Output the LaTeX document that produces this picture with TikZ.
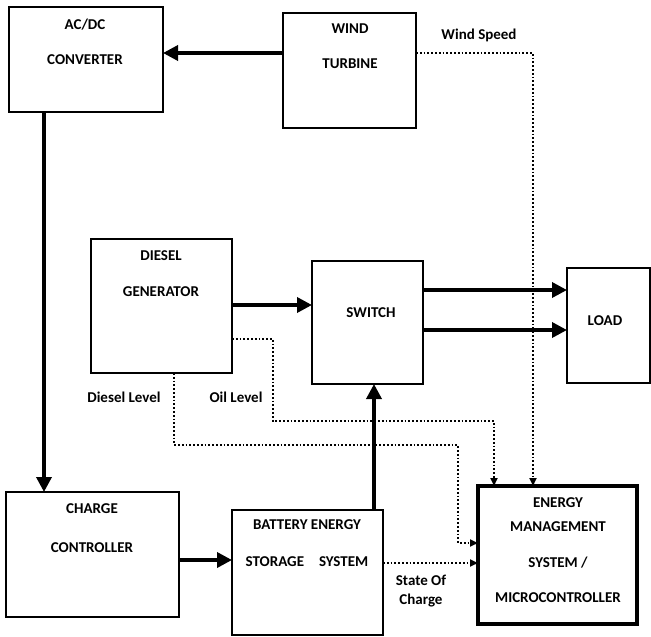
\documentclass[tikz,border=0pt]{standalone}
\usepackage{fontspec}
\setmainfont{Carlito}
\usetikzlibrary{arrows.meta}
\tikzstyle{blk}=[draw, line width=2.8pt, inner sep=0pt, outer sep=0pt]
\tikzstyle{tag}=[font=\fontsize{15}{17}\selectfont\bfseries, inner sep=0pt]
\tikzstyle{power}=[line width=3.5pt, -{Triangle[length=15pt,width=15pt]}]
\tikzstyle{signal}=[line width=1.8pt, dotted, -{Triangle[length=8pt,width=7pt]}]

\begin{document}
\begin{tikzpicture}[x=1pt, y=-1pt]
	\fill[white] (0,0) rectangle (651,637);
	\useasboundingbox (0,0) rectangle (651,637);
	% boxes
	\node[blk, minimum width=154pt, minimum height=105pt] (acdc) at (86,59.5) {};
	\node[blk, minimum width=133pt, minimum height=115pt] (wind) at (349.5,70.5) {};
	\node[blk, minimum width=141pt, minimum height=134pt] (diesel) at (161.5,306) {};
	\node[blk, minimum width=111pt, minimum height=123pt] (switch) at (367.5,322.5) {};
	\node[blk, minimum width=83pt, minimum height=115pt] (load) at (608.5,325.5) {};
	\node[blk, minimum width=173pt, minimum height=125pt] (charge) at (92.5,554.5) {};
	\node[blk, minimum width=151pt, minimum height=125pt] (battery) at (307.5,572.5) {};
	\node[blk, line width=3.8pt, minimum width=159pt, minimum height=138pt] (ems) at (557.5,555) {};
	% texts
	\node[tag] (acdc1) at (85,25) {AC/DC};
	\node[tag] (acdc2) at (85,60) {CONVERTER};
	\node[tag] (wind1) at (350,29) {WIND};
	\node[tag] (wind2) at (350,64) {TURBINE};
	\node[tag] (diesel1) at (161,256) {DIESEL};
	\node[tag] (diesel2) at (161,292) {GENERATOR};
	\node[tag] (switch1) at (371,313) {SWITCH};
	\node[tag] (load1) at (605,321) {LOAD};
	\node[tag] (charge1) at (92,509) {CHARGE};
	\node[tag] (charge2) at (92,548) {CONTROLLER};
	\node[tag] (battery1) at (307,525) {BATTERY ENERGY};
	\node[tag] (battery2) at (307,562) {STORAGE\hspace{1em}SYSTEM};
	\node[tag] (ems1) at (558,503) {ENERGY};
	\node[tag] (ems2) at (558,527) {MANAGEMENT};
	\node[tag] (ems3) at (558,563) {SYSTEM /};
	\node[tag] (ems4) at (558,598) {MICROCONTROLLER};
	\node[tag] (speed) at (479,35) {Wind Speed};
	\node[tag] (dlevel) at (124,397) {Diesel Level};
	\node[tag] (olevel) at (236,397) {Oil Level};
	\node[tag] (soc1) at (421,580) {State Of};
	\node[tag] (soc2) at (421,601) {Charge};
	% power flow
	\draw[power] (wind.west |- 0,53) -- (acdc.east |- 0,53);
	\draw[power] (acdc.south -| 44,0) -- (charge.north -| 44,0);
	\draw[power] (diesel.east |- 0,305) -- (switch.west |- 0,305);
	\draw[power] (switch.east |- 0,290) -- (load.west |- 0,290);
	\draw[power] (switch.east |- 0,330) -- (load.west |- 0,330);
	\draw[power] (charge.east |- 0,560) -- (battery.west |- 0,560);
	\draw[power] (battery.north -| 374,0) -- (switch.south -| 374,0);
	% signals
	\draw[signal] (wind.east |- 0,53) -| (ems.north -| 533,0);
	\draw[signal] (diesel.east |- 0,339) -| (273,421) -| (ems.north -| 494,0);
	\draw[signal] (diesel.south -| 174,0) |- (458,445) |- (ems.west |- 0,543);
	\draw[signal] (battery.east |- 0,563) -- (ems.west |- 0,563);
\end{tikzpicture}
\end{document}
